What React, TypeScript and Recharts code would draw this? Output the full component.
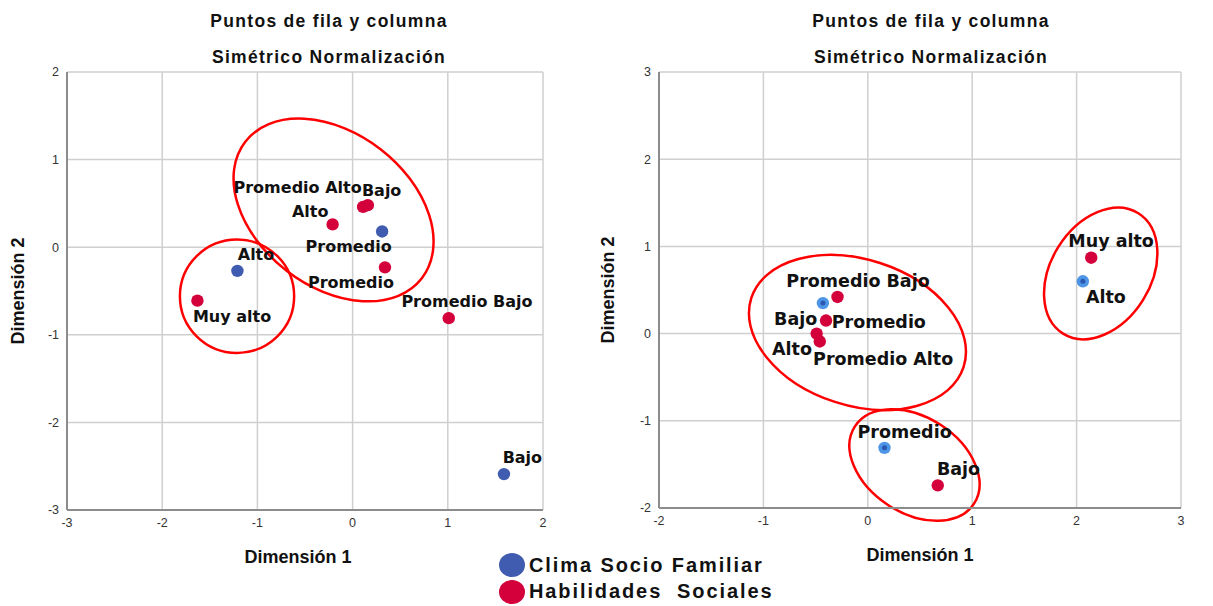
import React from "react";
import {
  ScatterChart,
  Scatter,
  XAxis,
  YAxis,
  CartesianGrid,
  ReferenceArea,
} from "recharts";

// ---- data ----
const seriesNames = ["Clima Socio Familiar", "Habilidades  Sociales"];

const leftClima = [
  { name: "Alto", x: -1.21, y: -0.27 },
  { name: "Promedio", x: 0.31, y: 0.18 },
  { name: "Bajo", x: 1.59, y: -2.59 },
];
const leftHabilidades = [
  { name: "Muy alto", x: -1.63, y: -0.61 },
  { name: "Alto", x: -0.21, y: 0.26 },
  { name: "Promedio Alto", x: 0.11, y: 0.46 },
  { name: "Bajo", x: 0.16, y: 0.48 },
  { name: "Promedio", x: 0.34, y: -0.23 },
  { name: "Promedio Bajo", x: 1.01, y: -0.81 },
];

const rightClima = [
  { name: "Bajo", x: -0.43, y: 0.35 },
  { name: "Promedio", x: 0.16, y: -1.31 },
  { name: "Alto", x: 2.06, y: 0.6 },
];
const rightHabilidades = [
  { name: "Promedio Bajo", x: -0.29, y: 0.42 },
  { name: "Promedio", x: -0.4, y: 0.15 },
  { name: "Alto", x: -0.49, y: 0.0 },
  { name: "Promedio Alto", x: -0.46, y: -0.09 },
  { name: "Muy alto", x: 2.14, y: 0.87 },
  { name: "Bajo", x: 0.67, y: -1.74 },
];

const leftTicks = [-3, -2, -1, 0, 1, 2];
const rightTicks = [-2, -1, 0, 1, 2, 3];

// hand-drawn ellipses (centre and semi-axes in data units, angle in degrees)
const leftEllipses = [
  { cx: -0.2, cy: 0.425, rx: 1.172, ry: 0.877, angle: 37.7 },
  { cx: -1.214, cy: -0.56, rx: 0.6, ry: 0.647, angle: 0 },
];
const rightEllipses = [
  { cx: -0.099, cy: 0.013, rx: 1.069, ry: 0.837, angle: 18 },
  { cx: 2.231, cy: 0.69, rx: 0.68, ry: 0.573, angle: -58 },
  { cx: 0.447, cy: -1.507, rx: 0.68, ry: 0.55, angle: 33 },
];

// label placement relative to the point, px
const leftClimaLabels = { Alto: [18.6, -16.7], Promedio: [-33.5, 14.7], Bajo: [18.4, -16.7] };
const leftHabLabels = {
  "Muy alto": [34.6, 15.7],
  Alto: [-22.4, -13.4],
  "Promedio Alto": [-65.5, -19],
  Bajo: [13.8, -14.4],
  Promedio: [-34, 15.4],
  "Promedio Bajo": [18.2, -16.6],
};
const rightClimaLabels = { Bajo: [-27.2, 16], Promedio: [20.1, -16.1], Alto: [23, 16] };
const rightHabLabels = {
  "Promedio Bajo": [20.5, -15.7],
  Promedio: [52.8, 1.1],
  Alto: [-24.6, 15.3],
  "Promedio Alto": [63.4, 17.4],
  "Muy alto": [19.9, -16.7],
  Bajo: [20.8, -16.4],
};

const RED = "#d4003b";
const BLUE = "#3f5cb0";
const LIGHT_BLUE = "#4d95e6";
const TICK = { fontSize: 12.5, fill: "#333", fontFamily: "Liberation Sans, Arial" };

function pointShape(color: string, labels: Record<string, number[]>, fontSize: number, inner?: string) {
  return (p: any) => {
    const off = labels[p.payload.name] || [0, -16];
    return (
      <g>
        <circle cx={p.cx} cy={p.cy} r={6.2} fill={color} />
        {inner && <circle cx={p.cx} cy={p.cy} r={2.5} fill={inner} />}
        <text
          x={p.cx + off[0]}
          y={p.cy + off[1]}
          textAnchor="middle"
          dominantBaseline="central"
          fontFamily="DejaVu Sans"
          fontWeight="bold"
          fontSize={fontSize}
          fill="#111"
        >
          {p.payload.name}
        </text>
      </g>
    );
  };
}

function ellipseShape(angle: number) {
  return (p: any) => {
    const cx = p.x + p.width / 2;
    const cy = p.y + p.height / 2;
    return (
      <ellipse
        cx={cx}
        cy={cy}
        rx={Math.abs(p.width) / 2}
        ry={Math.abs(p.height) / 2}
        transform={`rotate(${angle} ${cx} ${cy})`}
        fill="none"
        stroke="#ff0000"
        strokeWidth={2.5}
      />
    );
  };
}

type PanelProps = {
  left: number;
  width: number;
  margin: { top: number; right: number; bottom: number; left: number };
  ticks: number[];
  clima: any[];
  hab: any[];
  climaLabels: Record<string, number[]>;
  habLabels: Record<string, number[]>;
  ellipses: any[];
  labelSize: number;
  climaColor: string;
  climaInner?: string;
  xTitleDx: number;
  yTitleX: number;
  titleCenter: number;
};

function Panel(pr: PanelProps) {
  const dom: [number, number] = [pr.ticks[0], pr.ticks[pr.ticks.length - 1]];
  return (
    <div style={{ position: "absolute", left: pr.left, top: 0 }}>
      <div
        style={{
          position: "absolute",
          left: pr.titleCenter - pr.left - 200,
          top: 10,
          width: 400,
          textAlign: "center",
          fontFamily: "Liberation Sans, Arial",
          fontWeight: "bold",
          fontSize: 17.5,
          letterSpacing: 1.3,
          lineHeight: "22px",
          color: "#111",
        }}
      >
        <div>Puntos de fila y columna</div>
        <div style={{ marginTop: 14 }}>Simétrico Normalización</div>
      </div>
      <ScatterChart width={pr.width} height={606} margin={pr.margin}>
        <CartesianGrid stroke="#cfcfcf" strokeWidth={1.5} />
        <XAxis
          type="number"
          dataKey="x"
          domain={dom}
          ticks={pr.ticks}
          allowDataOverflow
          height={30}
          stroke="#8c8c8c"
          strokeWidth={2}
          tickLine={false}
          tick={TICK}
          label={(props: any) => {
            const vb = props.viewBox || {};
            return (
              <text
                x={vb.x + vb.width / 2 + pr.xTitleDx}
                y={vb.y + 47}
                textAnchor="middle"
                dominantBaseline="central"
                fontFamily="Liberation Sans, Arial"
                fontWeight="bold"
                fontSize={18}
                fill="#111"
              >
                Dimensión 1
              </text>
            );
          }}
        />
        <YAxis
          type="number"
          dataKey="y"
          domain={dom}
          ticks={pr.ticks}
          allowDataOverflow
          width={50}
          stroke="#8c8c8c"
          strokeWidth={2}
          tickLine={false}
          tick={TICK}
          label={(props: any) => {
            const vb = props.viewBox || {};
            const cy = vb.y + vb.height / 2;
            return (
              <text
                x={pr.yTitleX}
                y={cy}
                transform={`rotate(-90 ${pr.yTitleX} ${cy})`}
                textAnchor="middle"
                dominantBaseline="central"
                fontFamily="Liberation Sans, Arial"
                fontWeight="bold"
                fontSize={18}
                fill="#111"
              >
                Dimensión 2
              </text>
            );
          }}
        />
        <Scatter
          name={seriesNames[1]}
          data={pr.hab}
          isAnimationActive={false}
          shape={pointShape(RED, pr.habLabels, pr.labelSize)}
        />
        <Scatter
          name={seriesNames[0]}
          data={pr.clima}
          isAnimationActive={false}
          shape={pointShape(pr.climaColor, pr.climaLabels, pr.labelSize, pr.climaInner)}
        />
        {pr.ellipses.map((e, i) => (
          <ReferenceArea
            key={i}
            x1={e.cx - e.rx}
            x2={e.cx + e.rx}
            y1={e.cy - e.ry}
            y2={e.cy + e.ry}
            ifOverflow="visible"
            shape={ellipseShape(e.angle)}
          />
        ))}
      </ScatterChart>
    </div>
  );
}

function Legend() {
  const colors = [BLUE, RED];
  return (
    <div style={{ position: "absolute", left: 499, top: 552 }}>
      {seriesNames.map((n, i) => (
        <div key={n} style={{ display: "flex", alignItems: "center", height: 26.5 }}>
          <span
            style={{
              display: "inline-block",
              width: 26,
              height: 24,
              borderRadius: "50%",
              background: colors[i],
              marginRight: 4,
            }}
          />
          <span
            style={{
              fontFamily: "Liberation Sans, Arial",
              fontWeight: "bold",
              fontSize: 20,
              letterSpacing: 1.9,
              whiteSpace: "pre",
              color: "#111",
            }}
          >
            {n}
          </span>
        </div>
      ))}
    </div>
  );
}

export default function App() {
  return (
    <div style={{ position: "absolute", left: 0, top: 0, width: 1213, height: 606, background: "#fff" }}>
      <Panel
        left={0}
        width={600}
        margin={{ top: 72, right: 57, bottom: 66, left: 17 }}
        ticks={leftTicks}
        clima={leftClima}
        hab={leftHabilidades}
        climaLabels={leftClimaLabels}
        habLabels={leftHabLabels}
        ellipses={leftEllipses}
        labelSize={16}
        climaColor={BLUE}
        xTitleDx={-7}
        yTitleX={18}
        titleCenter={329}
      />
      <Panel
        left={590}
        width={623}
        margin={{ top: 72, right: 32, bottom: 68, left: 19 }}
        ticks={rightTicks}
        clima={rightClima}
        hab={rightHabilidades}
        climaLabels={rightClimaLabels}
        habLabels={rightHabLabels}
        ellipses={rightEllipses}
        labelSize={17.5}
        climaColor={LIGHT_BLUE}
        climaInner="#2b57b0"
        xTitleDx={0}
        yTitleX={18}
        titleCenter={931}
      />
      <Legend />
    </div>
  );
}
